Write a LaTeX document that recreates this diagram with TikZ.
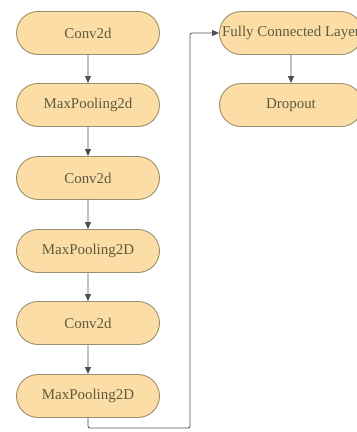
\documentclass[tikz,border=0pt]{standalone}
\usepackage{fontspec}
\setmainfont{Liberation Serif}
\usetikzlibrary{shapes.misc,arrows.meta}
\definecolor{layerfill}{HTML}{FCDDA5}
\definecolor{layerline}{HTML}{9C8F6E}
\definecolor{layertext}{HTML}{5E5A3E}
\definecolor{wire}{HTML}{4F4F4F}
\tikzset{
  layer/.style={rounded rectangle, draw=layerline, line width=0.9bp, fill=layerfill,
    text=layertext, minimum width=147bp, minimum height=43bp, inner xsep=2bp,
    font=\fontsize{15}{17}\selectfont},
  arr/.style={draw=wire, line width=0.8bp, -{Triangle[length=7bp,width=6bp]}}
}
\begin{document}
\begin{tikzpicture}[x=1bp,y=-1bp]
	\useasboundingbox (0,0) rectangle (357,432);
	\node[layer] (c1) at (88,33) {Conv2d};
	\node[layer] (m1) at (88,105) {MaxPooling2d};
	\node[layer] (c2) at (88,178) {Conv2d};
	\node[layer] (m2) at (88,251) {MaxPooling2D};
	\node[layer] (c3) at (88,323) {Conv2d};
	\node[layer] (m3) at (88,396) {MaxPooling2D};
	\node[layer] (fc) at (291,33) {Fully Connected Layer};
	\node[layer] (drop) at (291,105) {Dropout};
	\coordinate (turn) at (190,428);
	\draw[arr] (c1) -- (m1); \draw[arr] (m1) -- (c2);
	\draw[arr] (c2) -- (m2); \draw[arr] (m2) -- (c3);
	\draw[arr] (c3) -- (m3);
	\draw[arr, rounded corners=2bp] (m3.south) |- (turn) |- (fc.west);
	\draw[arr] (fc) -- (drop);
\end{tikzpicture}
\end{document}
